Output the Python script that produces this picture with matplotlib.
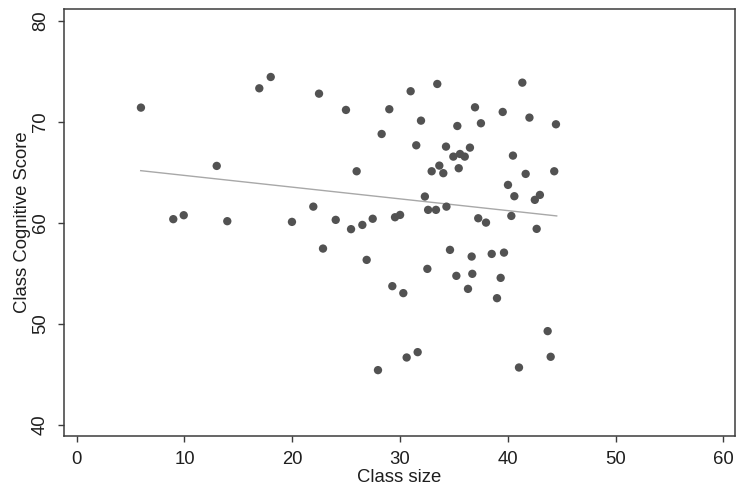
"""Scatter of class cognitive score against class size, with linear fit."""

import matplotlib

matplotlib.use("Agg")
import matplotlib.pyplot as plt

plt.rcParams["font.family"] = ["Liberation Sans", "DejaVu Sans"]

# Data
class_size = [
    5.96, 8.96, 9.93, 12.99, 13.97, 16.94, 18.0, 19.97, 21.95, 22.48,
    22.85, 24.03, 24.98, 25.45, 25.97, 26.5, 26.9, 27.46, 27.95, 28.29,
    29.0, 29.28, 29.53, 30.0, 30.3, 30.61, 30.98, 31.5, 31.63, 31.94,
    32.3, 32.53, 32.6, 32.93, 33.33, 33.45, 33.64, 34.01, 34.26, 34.3,
    34.63, 34.94, 35.22, 35.31, 35.44, 35.56, 36.0, 36.3, 36.48, 36.64,
    36.7, 36.95, 37.25, 37.5, 37.97, 38.5, 38.99, 39.33, 39.52, 39.64,
    40.01, 40.32, 40.47, 40.6, 41.03, 41.34, 41.65, 42.0, 42.5, 42.67,
    42.97, 43.69, 43.97, 44.3, 44.46,
]
cognitive_score = [
    71.4, 60.36, 60.75, 65.63, 60.16, 73.31, 74.43, 60.09, 61.6, 72.78,
    57.45, 60.29, 71.17, 59.37, 65.1, 59.79, 56.33, 60.4, 45.42, 68.79,
    71.24, 53.73, 60.55, 60.78, 53.04, 46.67, 73.02, 67.67, 47.2, 70.11,
    62.6, 55.44, 61.28, 65.1, 61.28, 73.74, 65.66, 64.91, 67.54, 61.6,
    57.32, 66.55, 54.75, 69.58, 65.4, 66.81, 66.55, 53.46, 67.44, 56.66,
    54.95, 71.43, 60.45, 69.85, 60.02, 56.92, 52.54, 54.55, 70.97, 57.05,
    63.75, 60.68, 66.65, 62.63, 45.68, 73.87, 64.84, 70.41, 62.27, 59.4,
    62.76, 49.28, 46.74, 65.1, 69.75,
]

# Fitted line end points as drawn in the reference
fit_x = [5.94, 44.53]
fit_y = [65.16, 60.68]

x_ticks = [0, 10, 20, 30, 40, 50, 60]
y_ticks = [40, 50, 60, 70, 80]

fig = plt.figure(figsize=(7.37, 4.91), dpi=100)
ax = fig.add_axes([0.0868, 0.112, 0.9105, 0.8697])

ax.plot(fit_x, fit_y, color="#a8a8a8", linewidth=1.0, zorder=2)
ax.scatter(
    class_size,
    cognitive_score,
    s=36,
    color="#525252",
    edgecolors="none",
    zorder=3,
)

ax.set_xlim(-1.18, 61.07)
ax.set_ylim(38.9, 81.16)
ax.set_xticks(x_ticks)
ax.set_yticks(y_ticks)

text_color = "#1e1e1e"
for side in ["left", "bottom", "top", "right"]:
    ax.spines[side].set_color("#3c3c3c")
    ax.spines[side].set_linewidth(1.1)

ax.tick_params(
    axis="both",
    direction="out",
    length=4.3,
    width=1.0,
    color="#3c3c3c",
    labelsize=13.3,
    labelcolor=text_color,
)
ax.tick_params(axis="x", pad=6.5)
ax.tick_params(axis="y", pad=6.5)
plt.setp(ax.get_yticklabels(), rotation=90, va="center")

ax.set_xlabel("Class size", fontsize=13.3, color=text_color, labelpad=0.5)
ax.set_ylabel("Class Cognitive Score", fontsize=13.3, color=text_color, labelpad=0.5)

plt.savefig("out.png", dpi=100)
